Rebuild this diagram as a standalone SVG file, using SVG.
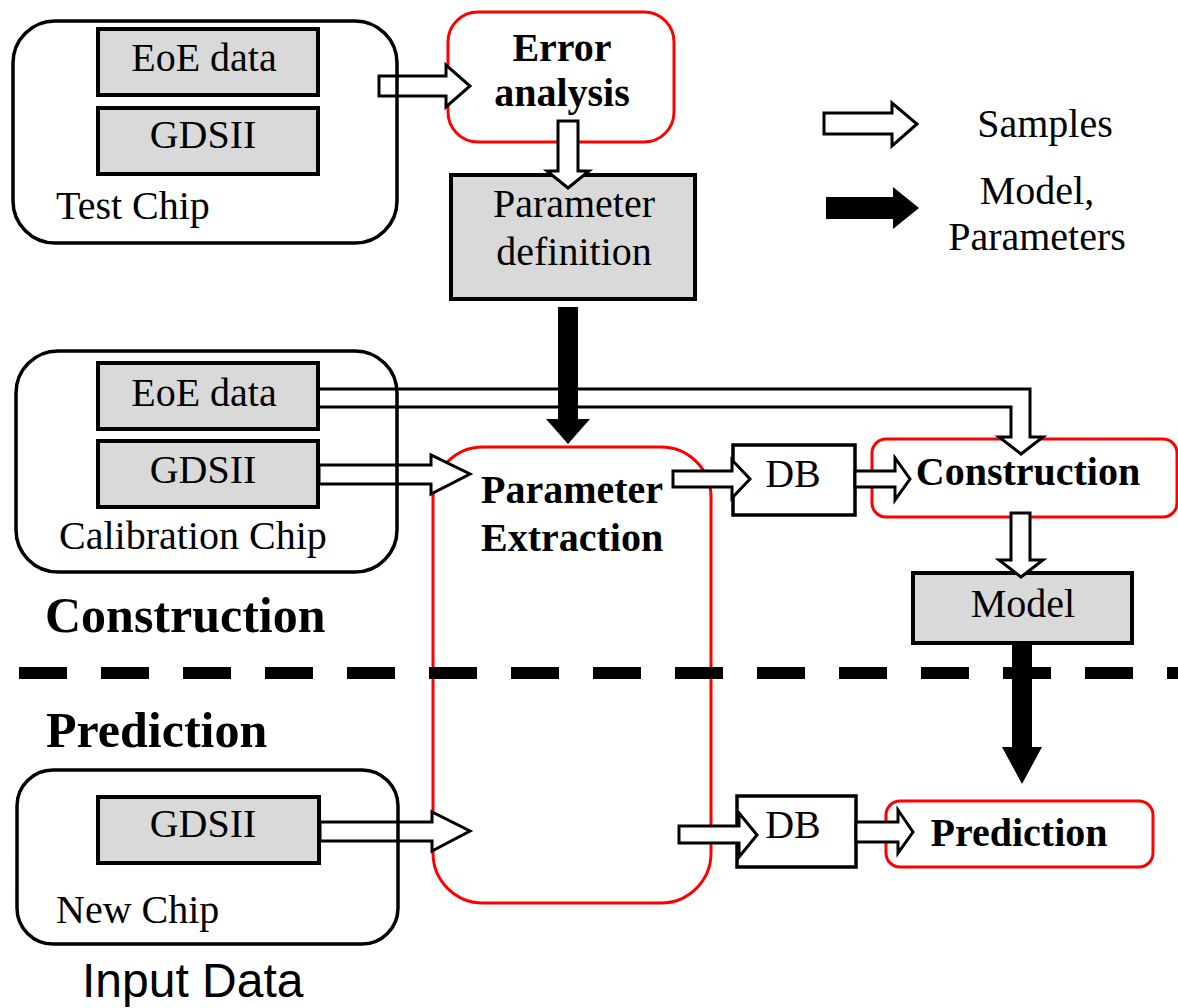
<svg xmlns="http://www.w3.org/2000/svg" width="1178" height="1008" viewBox="0 0 1178 1008">
<style>
.t{font-family:"Liberation Serif","Times New Roman",serif;font-size:40px;fill:#000}
.b{font-weight:bold}
.h{font-family:"Liberation Serif","Times New Roman",serif;font-size:50px;font-weight:bold;fill:#000}
.s{font-family:"Liberation Sans",Arial,sans-serif;font-size:48px;fill:#000}
.chip{fill:none;stroke:#000;stroke-width:3.5}
.grey{fill:#d9d9d9;stroke:#000;stroke-width:4}
.red{fill:#fff;stroke:#ff0000;stroke-width:3}
.wbox{fill:#fff;stroke:#000;stroke-width:3.5}
.ha{fill:#fff;stroke:#000;stroke-width:3;stroke-linejoin:miter}
.ba{fill:#000;stroke:none}
</style>
<rect width="1178" height="1008" fill="#fff"/>

<!-- red / process nodes -->
<g id="error-analysis">
<rect class="red" x="448" y="12" width="226" height="130" rx="30"/>
<text class="t b" x="562" y="61" text-anchor="middle">Error</text>
<text class="t b" x="562" y="106" text-anchor="middle">analysis</text>
</g>
<g id="parameter-extraction">
<rect class="red" x="433" y="447" width="278" height="456" rx="50"/>
<text class="t b" x="481" y="503">Parameter</text>
<text class="t b" x="481" y="551">Extraction</text>
</g>
<g id="construction-node">
<rect class="red" x="872" y="439" width="305" height="78" rx="14"/>
<text class="t b" x="1028" y="485" text-anchor="middle">Construction</text>
</g>
<g id="prediction-node">
<rect class="red" x="886" y="801" width="267" height="66" rx="14"/>
<text class="t b" x="1019" y="846" text-anchor="middle">Prediction</text>
</g>

<!-- dashed separator -->
<line x1="19" y1="673" x2="1178" y2="673" stroke="#000" stroke-width="12" stroke-dasharray="48 34"/>

<g id="parameter-definition">
<rect class="grey" x="451" y="175" width="244" height="124"/>
<text class="t" x="574" y="217" text-anchor="middle">Parameter</text>
<text class="t" x="574" y="265" text-anchor="middle">definition</text>
</g>
<g id="db-upper">
<rect class="wbox" x="733" y="445" width="122" height="70"/>
<text class="t" x="793" y="487" text-anchor="middle">DB</text>
</g>
<g id="db-lower">
<rect class="wbox" x="737" y="796" width="119" height="71"/>
<text class="t" x="793" y="838" text-anchor="middle">DB</text>
</g>
<g id="model">
<rect class="grey" x="913" y="573" width="219" height="70"/>
<text class="t" x="1023" y="617" text-anchor="middle">Model</text>
</g>

<!-- connectors -->
<g id="connectors">
<polygon class="ha" points="379,76 446,76 446,65 470,86 446,107 446,96 379,96"/>
<polygon class="ha" points="558,121 578,121 578,171 589,171 568,188 547,171 558,171"/>
<path class="ha" d="M319,389 H1030 V437 H1043 L1021,454 L999,437 H1011 V407 H319"/>
<polygon class="ba" points="558,307 578,307 578,419 590,419 568,444 546,419 558,419"/>
<polygon class="ha" points="319,465 431,465 431,455 470,474 431,494 431,484 319,484"/>
<polygon class="ha" points="673,471 732,471 732,460 750,479 732,498 732,487 673,487"/>
<polygon class="ha" points="855,471 895,471 895,458 910,479 895,500 895,487 855,487"/>
<polygon class="ha" points="1011,513 1030,513 1030,560 1043,560 1021,577 999,560 1011,560"/>
<polygon class="ba" points="1012,643 1032,643 1032,747 1042,747 1022,784 1002,747 1012,747"/>
<polygon class="ha" points="320,822 432,822 432,812 470,831 432,851 432,841 320,841"/>
<polygon class="ha" points="679,826 739,826 739,813 757,835 739,857 739,843 679,843"/>
<polygon class="ha" points="856,822 898,822 898,810 913,832 898,853 898,842 856,842"/>
</g>

<!-- chips -->
<g id="test-chip">
<rect class="chip" x="13" y="21" width="384" height="222" rx="42"/>
<rect class="grey" x="98" y="29" width="220" height="66"/>
<text class="t" x="204" y="71" text-anchor="middle">EoE data</text>
<rect class="grey" x="98" y="108" width="220" height="66"/>
<text class="t" x="203" y="148" text-anchor="middle">GDSII</text>
<text class="t" x="56" y="219">Test Chip</text>
</g>
<g id="calibration-chip">
<rect class="chip" x="16" y="351" width="381" height="221" rx="42"/>
<rect class="grey" x="98" y="363" width="220" height="66"/>
<text class="t" x="204" y="406" text-anchor="middle">EoE data</text>
<rect class="grey" x="98" y="441" width="220" height="66"/>
<text class="t" x="203" y="483" text-anchor="middle">GDSII</text>
<text class="t" x="59" y="549">Calibration Chip</text>
</g>
<g id="new-chip">
<rect class="chip" x="17" y="770" width="381" height="174" rx="36"/>
<rect class="grey" x="98" y="797" width="221" height="66"/>
<text class="t" x="203" y="837" text-anchor="middle">GDSII</text>
<text class="t" x="56" y="923">New Chip</text>
</g>

<!-- legend -->
<g id="legend">
<polygon class="ha" points="824,113 892,113 892,103 917,124 892,146 892,134 824,134"/>
<text class="t" x="1045" y="137" text-anchor="middle">Samples</text>
<polygon class="ba" points="826,197 893,197 893,187 919,208 893,229 893,219 826,219"/>
<text class="t" x="1037" y="204" text-anchor="middle">Model,</text>
<text class="t" x="1037" y="250" text-anchor="middle">Parameters</text>
</g>

<!-- section labels -->
<text class="h" x="45" y="632">Construction</text>
<text class="h" x="46" y="747">Prediction</text>
<text class="s" x="82" y="997">Input Data</text>
</svg>
